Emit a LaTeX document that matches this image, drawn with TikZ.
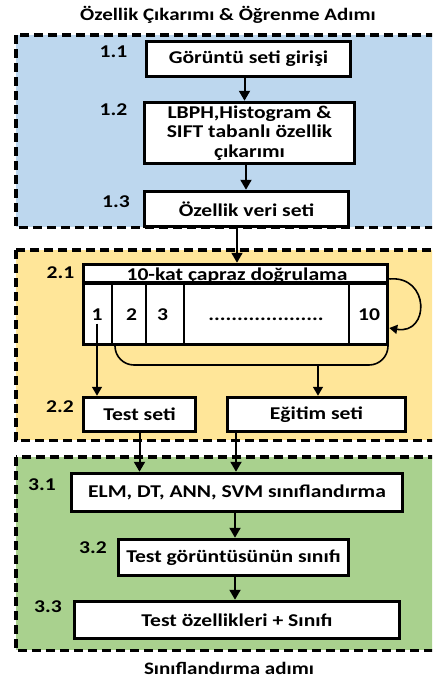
\documentclass[tikz,border=0pt]{standalone}
\usepackage{fontspec}
\setmainfont{Carlito}[FakeStretch=1.2]
\usetikzlibrary{arrows.meta}
\definecolor{stageblue}{HTML}{BDD7EE}
\definecolor{stageorange}{HTML}{FFE699}
\definecolor{stagegreen}{HTML}{A9D18E}
\begin{document}
\begin{tikzpicture}[x=1pt,y=-1pt,
  stage/.style={draw=black, line width=3.5pt, dash pattern=on 9pt off 5pt},
  txt/.style={font=\bfseries\fontsize{18}{19.5}\selectfont},
  stepbox/.style={txt, draw=black, line width=3.5pt, fill=white, align=center, inner sep=0pt},
  tag/.style={txt, anchor=base},
  heading/.style={font=\bfseries\fontsize{17.5}{20}\selectfont, anchor=base},
  flow/.style={line width=2pt, -{Triangle[width=11pt,length=10pt]}},
  thinflow/.style={line width=1.6pt, -{Triangle[width=10pt,length=9pt]}},
]
\useasboundingbox (0,0) rectangle (432,686);
\clip (0,0) rectangle (432,686);
\fill[white] (0,0) rectangle (432,686);

% three stages, open towards the right edge
\filldraw[stage, fill=stageblue]   (15.75,34.75) rectangle (460,227.25);
\filldraw[stage, fill=stageorange] (15.75,249.75) rectangle (460,440.25);
\filldraw[stage, fill=stagegreen]  (15.75,456.75) rectangle (460,650.25);

% headings
\node[heading] (top) at (228,20) {Özellik Çıkarımı \& Öğrenme Adımı};
\node[heading] (bottom) at (229,674) {Sınıflandırma adımı};

% stage 1: feature extraction
\node[stepbox, minimum width=204pt, minimum height=35pt] (b11) at (248.5,59) {Görüntü seti girişi};
\node[stepbox, minimum width=210pt, minimum height=61pt] (b12) at (249.5,133)
  {LBPH,Histogram \&\\SIFT tabanlı özellik\\çıkarımı};
\node[stepbox, minimum width=204pt, minimum height=35pt] (b13) at (246.5,209) {Özellik veri seti};
\node[tag] (t11) at (113.5,57) {1.1};
\node[tag] (t12) at (113.5,115) {1.2};
\node[tag] (t13) at (116,207) {1.3};

% stage 2: ten-fold cross validation
\node[draw=black, line width=3.5pt, fill=white, minimum width=304pt, minimum height=80pt, inner sep=0pt] (cv) at (235.5,304.5) {};
\draw[line width=3.5pt] (cv.west |- 0,283) -- (cv.east |- 0,283);
\foreach \x in {112,146,184,349}
  \draw[line width=1.2pt] (\x,283) -- (\x,346);
\node[txt, anchor=base] (cvt) at (237,280.5) {10-kat çapraz doğrulama};
\node[txt, anchor=base] (c1) at (97,320) {1};
\node[txt, anchor=base] (c2) at (131.5,320) {2};
\node[txt, anchor=base] (c3) at (162.5,320) {3};
\node[txt, anchor=base] (cd) at (266,320) {....................};
\node[txt, anchor=base] (c10) at (369,320) {10};
\node[tag] (t21) at (60.5,278) {2.1};

\node[stepbox, minimum width=112pt, minimum height=34pt] (test) at (139.5,414.5) {Test seti};
\node[stepbox, minimum width=178pt, minimum height=34pt] (egitim) at (316.5,414.5) {Eğitim seti};
\node[tag] (t22) at (60,412) {2.2};

% stage 3: classification
\node[stepbox, minimum width=331pt, minimum height=38pt] (b31) at (237,492.5) {ELM, DT, ANN, SVM sınıflandırma};
\node[stepbox, minimum width=230pt, minimum height=36pt] (b32) at (233.5,557.5) {Test görüntüsünün sınıfı};
\node[stepbox, minimum width=325pt, minimum height=37pt] (b33) at (237,620) {Test özellikleri + Sınıfı};
\node[tag] (t31) at (42,490) {3.1};
\node[tag] (t32) at (93,553) {3.2};
\node[tag] (t33) at (48,612) {3.3};

% connectors
\draw[flow] ([xshift=-4pt]b11.south) -- ([xshift=-4pt]b11.south |- b12.north);
\draw[flow] ([xshift=-3.5pt]b12.south) -- ([xshift=-3.5pt]b12.south |- b13.north);
\draw[flow] ([xshift=-9.5pt]b13.south) -- ([xshift=-9.5pt]b13.south |- cv.north);

% fold rotation loop
\draw[line width=1.6pt, -{Triangle[width=9pt,length=8pt]}]
  (cv.north east |- 0,279) .. controls (430,275) and (430,335) .. (cv.east |- 0,328);

% fold 1 -> test set, remaining folds -> training set
\draw[thinflow] (c1.south) -- (c1.south |- test.north);
\draw[line width=1.6pt, rounded corners=19pt] (cv.south -| 115,0) |- (388,365) -- (cv.south -| 388,0);
\coordinate (join) at (318,365);
\draw[thinflow] (join) -- (join |- egitim.north);

\draw[flow] (test.south) -- (test.south |- b31.north);
\draw[flow] ([xshift=-80.5pt]egitim.south) -- ([xshift=-80.5pt]egitim.south |- b31.north);
\draw[flow] ([xshift=-2pt]b31.south) -- ([xshift=-2pt]b31.south |- b32.north);
\draw[flow] ([xshift=1.5pt]b32.south) -- ([xshift=1.5pt]b32.south |- b33.north);
\end{tikzpicture}
\end{document}
